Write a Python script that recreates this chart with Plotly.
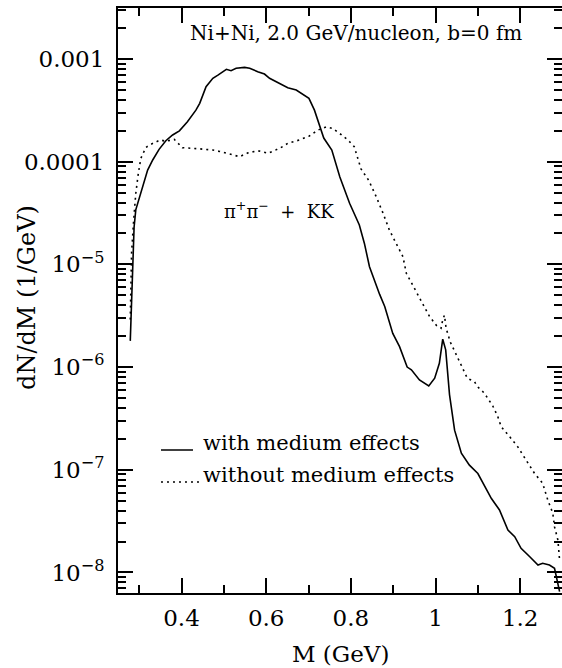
import plotly.graph_objects as go

# ---- data ----
m_with = [0.279, 0.284, 0.288, 0.292, 0.300, 0.308, 0.320, 0.332, 0.347, 0.363,
          0.379, 0.395, 0.414, 0.434, 0.443, 0.458, 0.474, 0.486, 0.506, 0.517,
          0.529, 0.549, 0.561, 0.580, 0.596, 0.608, 0.632, 0.651, 0.671, 0.687,
          0.701, 0.714, 0.726, 0.736, 0.755, 0.765, 0.774, 0.797, 0.820, 0.832,
          0.844, 0.868, 0.880, 0.899, 0.915, 0.933, 0.943, 0.962, 0.984, 0.998,
          1.009, 1.017, 1.024, 1.033, 1.045, 1.061, 1.080, 1.100, 1.112, 1.132,
          1.151, 1.171, 1.187, 1.202, 1.222, 1.242, 1.253, 1.269, 1.281, 1.285,
          1.293]
dn_with = [1.8e-6, 1.0e-5, 2.3e-5, 3.4e-5, 4.4e-5, 5.9e-5, 8.3e-5, 1.04e-4, 1.32e-4, 1.60e-4,
           1.82e-4, 2.00e-4, 2.45e-4, 3.18e-4, 3.70e-4, 5.37e-4, 6.49e-4, 6.98e-4, 7.94e-4, 7.69e-4,
           8.13e-4, 8.30e-4, 8.13e-4, 7.53e-4, 7.14e-4, 6.49e-4, 5.79e-4, 5.25e-4, 4.99e-4, 4.53e-4,
           4.14e-4, 3.18e-4, 2.28e-4, 1.70e-4, 1.30e-4, 9.6e-5, 7.1e-5, 3.94e-5, 2.42e-5, 1.60e-5,
           9.5e-6, 5.1e-6, 3.9e-6, 2.13e-6, 1.58e-6, 1.0e-6, 9.4e-7, 7.5e-7, 6.55e-7, 7.8e-7,
           1.09e-6, 1.87e-6, 1.47e-6, 5.4e-7, 2.43e-7, 1.45e-7, 1.11e-7, 9.2e-8, 7.4e-8, 5.25e-8,
           4.06e-8, 2.59e-8, 2.23e-8, 1.72e-8, 1.43e-8, 1.18e-8, 1.23e-8, 1.18e-8, 1.10e-8, 9.1e-9,
           6.5e-9]

m_without = [0.279, 0.282, 0.287, 0.292, 0.298, 0.304, 0.316, 0.328, 0.350, 0.363,
             0.383, 0.402, 0.438, 0.461, 0.474, 0.490, 0.513, 0.537, 0.557, 0.580,
             0.604, 0.632, 0.651, 0.679, 0.702, 0.722, 0.742, 0.757, 0.773, 0.793,
             0.808, 0.817, 0.824, 0.842, 0.860, 0.876, 0.891, 0.907, 0.923, 0.931,
             0.952, 0.968, 0.986, 1.002, 1.013, 1.017, 1.021, 1.025, 1.035, 1.055,
             1.075, 1.092, 1.100, 1.115, 1.135, 1.147, 1.155, 1.175, 1.194, 1.214,
             1.234, 1.253, 1.265, 1.277, 1.281, 1.289, 1.293]
dn_without = [2.9e-6, 1.28e-5, 2.7e-5, 4.9e-5, 7.7e-5, 1.08e-4, 1.38e-4, 1.48e-4, 1.63e-4, 1.58e-4,
              1.65e-4, 1.37e-4, 1.34e-4, 1.32e-4, 1.30e-4, 1.26e-4, 1.18e-4, 1.12e-4, 1.22e-4, 1.28e-4,
              1.21e-4, 1.35e-4, 1.51e-4, 1.63e-4, 1.78e-4, 2.03e-4, 2.19e-4, 2.11e-4, 1.89e-4, 1.63e-4,
              1.40e-4, 1.04e-4, 8.5e-5, 6.6e-5, 4.56e-5, 3.15e-5, 2.16e-5, 1.60e-5, 1.19e-5, 8.2e-6,
              5.6e-6, 4.2e-6, 3.1e-6, 2.55e-6, 2.39e-6, 2.88e-6, 3.2e-6, 2.39e-6, 1.75e-6, 1.17e-6,
              7.8e-7, 7.2e-7, 6.4e-7, 5.6e-7, 4.2e-7, 3.3e-7, 2.63e-7, 2.1e-7, 1.68e-7, 1.24e-7,
              9.2e-8, 7.4e-8, 5.1e-8, 3.77e-8, 2.79e-8, 2.07e-8, 1.32e-8]

x_tickvals = [0.4, 0.6, 0.8, 1.0, 1.2]
x_ticktext = ["0.4", "0.6", "0.8", "1", "1.2"]
x_minor = [0.3, 0.5, 0.7, 0.9, 1.1]
y_tickvals = [1e-3, 1e-4, 1e-5, 1e-6, 1e-7, 1e-8]
y_ticktext = ["0.001", "0.0001", "10<sup>\u22125</sup>", "10<sup>\u22126</sup>",
              "10<sup>\u22127</sup>", "10<sup>\u22128</sup>"]
y_minor = [k * 10.0 ** e for e in range(-9, -2) for k in range(2, 10)]

label_with = "with medium effects"
label_without = "without medium effects"
title_text = "Ni+Ni, 2.0 GeV/nucleon, b=0 fm"
channel_text = "\u03c0<sup>+</sup>\u03c0<sup>\u2212</sup>  +  KK"

FONT = "DejaVu Serif"

fig = go.Figure()
fig.add_trace(go.Scatter(x=m_with, y=dn_with, mode="lines", name=label_with,
                         line=dict(color="black", width=1.6), showlegend=False))
fig.add_trace(go.Scatter(x=m_without, y=dn_without, mode="lines", name=label_without,
                         line=dict(color="black", width=1.6, dash="2px,4px"), showlegend=False))

axis_common = dict(showline=True, linecolor="black", linewidth=2, mirror="ticks",
                   ticks="inside", ticklen=15, tickwidth=1.5, tickcolor="black",
                   showgrid=False, zeroline=False, automargin=False,
                   tickfont=dict(family=FONT, size=23, color="black"))

fig.update_xaxes(range=[0.25, 1.2987], tickmode="array", tickvals=x_tickvals,
                 ticktext=x_ticktext, ticklabelstandoff=3,
                 minor=dict(ticks="inside", ticklen=8, tickwidth=1.5, tickcolor="black",
                            tickmode="array", tickvals=x_minor, showgrid=False),
                 **axis_common)
fig.update_yaxes(type="log", range=[-8.2, -2.503], tickmode="array", tickvals=y_tickvals,
                 ticktext=y_ticktext, ticklabelstandoff=7,
                 minor=dict(ticks="inside", ticklen=8, tickwidth=1.5, tickcolor="black",
                            tickmode="array", tickvals=y_minor, showgrid=False),
                 **axis_common)

ann_font = dict(family=FONT, color="black")
fig.add_annotation(text=title_text, xref="paper", yref="paper", x=0.535, y=0.957,
                   xanchor="center", yanchor="middle",
                   showarrow=False, font=dict(size=20, **ann_font))
fig.add_annotation(text=channel_text, xref="paper", yref="paper", x=0.3626, y=0.6547,
                   xanchor="center", yanchor="middle",
                   showarrow=False, font=dict(size=18, **ann_font))
fig.add_annotation(text="M (GeV)", xref="paper", yref="paper", x=0.502, y=-0.105,
                   xanchor="center", yanchor="middle", borderpad=0,
                   showarrow=False, font=dict(size=23, **ann_font))
fig.add_annotation(text="dN/dM (1/GeV)", xref="paper", yref="paper", x=-0.205, y=0.506,
                   xanchor="center", yanchor="middle",
                   textangle=-90, showarrow=False, font=dict(size=24, **ann_font))

# legend (drawn manually)
fig.add_shape(type="line", xref="paper", yref="paper", x0=0.0968, x1=0.1689,
              y0=0.2444, y1=0.2444, line=dict(color="black", width=1.6))
fig.add_shape(type="line", xref="paper", yref="paper", x0=0.0968, x1=0.1891,
              y0=0.1897, y1=0.1897, line=dict(color="black", width=1.6, dash="2px,4px"))
fig.add_annotation(text=label_with, xref="paper", yref="paper", x=0.188, y=0.2564,
                   xanchor="left", yanchor="middle", showarrow=False,
                   font=dict(size=21, **ann_font))
fig.add_annotation(text=label_without, xref="paper", yref="paper", x=0.188, y=0.2017,
                   xanchor="left", yanchor="middle", showarrow=False,
                   font=dict(size=21, **ann_font))

fig.update_layout(width=562, height=668, margin=dict(l=118, r=0, t=8, b=75, autoexpand=False),
                  plot_bgcolor="white", paper_bgcolor="white",
                  font=dict(family=FONT, color="black"))

fig.write_html("out.html", config={"displayModeBar": False},
               post_script="document.body.style.margin='0';")
